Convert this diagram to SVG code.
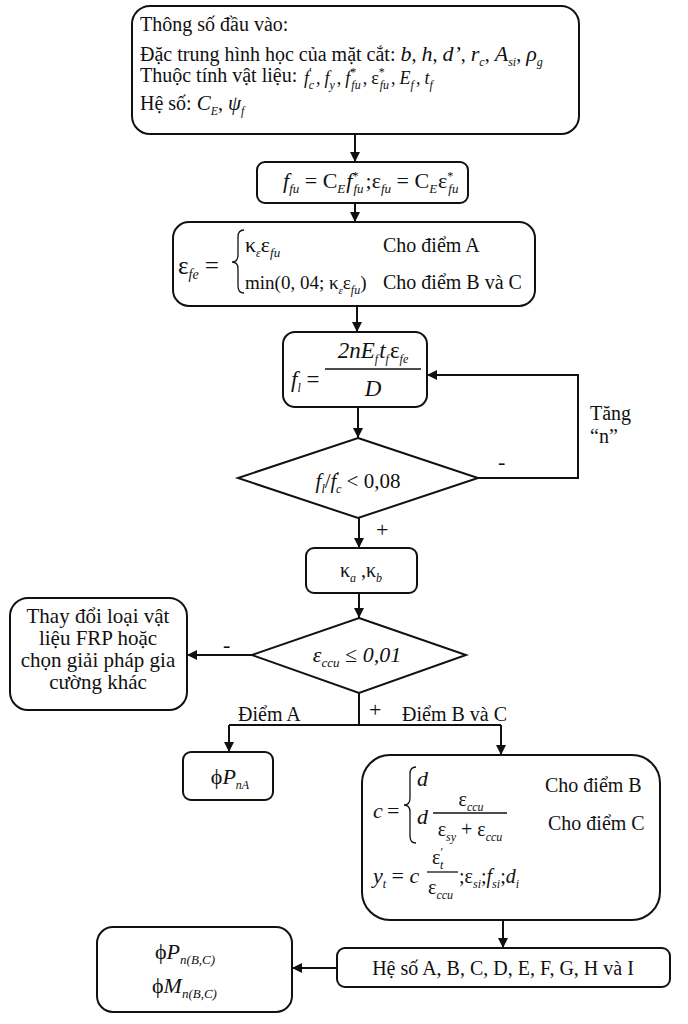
<svg xmlns="http://www.w3.org/2000/svg" width="688" height="1024" viewBox="0 0 688 1024">
<defs>
<style>
.box{fill:#fff;stroke:#111;stroke-width:2}
.t{font-family:"Liberation Serif","Times New Roman",serif;font-size:20px;fill:#111}
.m{font-family:"Liberation Serif","Times New Roman",serif;font-size:21px;fill:#111}
.i{font-style:italic}
.b{font-size:12px;baseline-shift:-5px;font-style:italic}
.p{font-size:12px;baseline-shift:8px}
.c{stroke:#111;stroke-width:2;fill:none}
.thin{stroke:#111;stroke-width:1.3;fill:none}
</style>
<marker id="arr" viewBox="0 0 10 10" refX="10" refY="5" markerWidth="11" markerHeight="10" markerUnits="userSpaceOnUse" orient="auto"><path d="M0,0 L10,5 L0,10 z" fill="#111"/></marker>
</defs>
<rect width="688" height="1024" fill="#fff"/>

<g id="connectors">
<path class="c" d="M355,134 V162" marker-end="url(#arr)"/>
<path class="c" d="M355,203 V222" marker-end="url(#arr)"/>
<path class="c" d="M357,306 V332" marker-end="url(#arr)"/>
<path class="c" d="M358,407 V438" marker-end="url(#arr)"/>
<path class="c" d="M478,478 H578 V375 H427" marker-end="url(#arr)"/>
<path class="c" d="M359,518 V548" marker-end="url(#arr)"/>
<path class="c" d="M359,593 V618" marker-end="url(#arr)"/>
<path class="c" d="M252,655 H187" marker-end="url(#arr)"/>
<path class="c" d="M359,693 V725 M229,725 H501"/>
<path class="c" d="M229,725 V752" marker-end="url(#arr)"/>
<path class="c" d="M501,725 V755" marker-end="url(#arr)"/>
<path class="c" d="M503,920 V948" marker-end="url(#arr)"/>
<path class="c" d="M337,968 H292" marker-end="url(#arr)"/>
<text class="t" x="590" y="420">Tăng</text>
<text class="t" x="590" y="443">“n”</text>
<text class="t" x="498" y="469" style="font-size:22px">-</text>
<text class="t" x="376" y="537" style="font-size:22px">+</text>
<text class="t" x="223" y="652" style="font-size:22px">-</text>
<text class="t" x="369" y="717" style="font-size:22px">+</text>
<text class="t" x="238" y="721">Điểm A</text>
<text class="t" x="402" y="721">Điểm B và C</text>
</g>

<g id="input">
<rect class="box" x="132" y="6" width="447" height="128" rx="18"/>
<text class="t" x="140" y="31">Thông số đầu vào:</text>
<text class="t" x="140" y="61">Đặc trung hình học của mặt cắt: <tspan class="i" font-size="22">b</tspan>, <tspan class="i" font-size="22">h</tspan>, <tspan class="i" font-size="22">d’</tspan>, <tspan class="i" font-size="22">r</tspan><tspan class="b">c</tspan>, <tspan class="i" font-size="22">A</tspan><tspan class="b">si</tspan>, <tspan class="i" font-size="22">ρ</tspan><tspan class="b">g</tspan></text>
<text class="t" x="140" y="82">Thuộc tính vật liệu:</text>
<text class="m" x="304" y="84" style="font-size:18px"><tspan class="i">f</tspan><tspan class="p">′</tspan><tspan class="b" dx="-3">c</tspan><tspan dx="2">,</tspan><tspan class="i" dx="4">f</tspan><tspan class="b">y</tspan><tspan dx="2">,</tspan><tspan class="i" dx="4">f</tspan><tspan class="p">*</tspan><tspan class="b" dx="-5">fu</tspan><tspan dx="2">,</tspan><tspan dx="4">ε</tspan><tspan class="p">*</tspan><tspan class="b" dx="-5">fu</tspan><tspan dx="2">,</tspan><tspan class="i" dx="4">E</tspan><tspan class="b">f</tspan><tspan dx="2">,</tspan><tspan class="i" dx="4">t</tspan><tspan class="b">f</tspan></text>
<text class="t" x="140" y="110">Hệ số: <tspan class="i" font-size="21">C</tspan><tspan class="b">E</tspan>, <tspan class="i" font-size="21">ψ</tspan><tspan class="b">f</tspan></text>
</g>

<g id="ffu">
<rect class="box" x="257" y="162" width="211" height="41" rx="8"/>
<text class="m" x="283" y="188" style="font-size:22px"><tspan class="i">f</tspan><tspan class="b" style="font-size:13px">fu</tspan> = C<tspan class="b" style="font-size:13px">E</tspan><tspan class="i" dx="1">f</tspan><tspan class="p">*</tspan><tspan class="b" dx="-5" style="font-size:13px">fu</tspan><tspan dx="2">;</tspan>ε<tspan class="b" style="font-size:13px">fu</tspan> = C<tspan class="b" style="font-size:13px">E</tspan><tspan dx="1">ε</tspan><tspan class="p">*</tspan><tspan class="b" dx="-5" style="font-size:13px">fu</tspan></text>
</g>

<g id="efe">
<rect class="box" x="173" y="222" width="362" height="84" rx="16"/>
<text class="m" x="178" y="274" style="font-size:25px">ε<tspan class="b" style="font-size:14px">fe</tspan> =</text>
<path class="thin" d="M244,230 Q238,230 238,237 L238,255 Q238,262 232,262 Q238,262 238,269 L238,286 Q238,293 244,293"/>
<text class="m" x="245" y="252" style="font-size:22px">κ<tspan class="b" style="font-size:12px">ε</tspan>ε<tspan class="b" style="font-size:13px">fu</tspan></text>
<text class="t" x="383" y="252">Cho điểm A</text>
<text class="m" x="245" y="289" style="font-size:19px">min(0, 04; κ<tspan class="b" style="font-size:11px">ε</tspan>ε<tspan class="b" style="font-size:12px">fu</tspan>)</text>
<text class="t" x="383" y="289">Cho điểm B và C</text>
</g>

<g id="fl">
<rect class="box" x="283" y="332" width="144" height="75" rx="12"/>
<text class="m" x="291" y="387" style="font-size:23px"><tspan class="i">f</tspan><tspan class="b">l</tspan> =</text>
<line class="thin" x1="325" y1="369" x2="421" y2="369"/>
<text class="m" x="373" y="358" text-anchor="middle" style="font-size:23px"><tspan class="i">2nE</tspan><tspan class="b">f</tspan><tspan class="i" dx="1">t</tspan><tspan class="b">f</tspan><tspan dx="1">ε</tspan><tspan class="b">fe</tspan></text>
<text class="m i" x="373" y="396" text-anchor="middle" style="font-size:23px">D</text>
</g>

<g id="check1">
<polygon class="box" points="358,438 478,478 358,518 238,478"/>
<text class="m" x="358" y="488" text-anchor="middle" style="font-size:21px"><tspan class="i">f</tspan><tspan class="b">l</tspan>/<tspan class="i">f</tspan><tspan class="p">′</tspan><tspan class="b" dx="-3">c</tspan> &lt; 0,08</text>
</g>

<g id="kappa">
<rect class="box" x="306" y="548" width="111" height="45" rx="8"/>
<text class="m" x="361" y="577" text-anchor="middle" style="font-size:20px">κ<tspan class="b">a</tspan> ,κ<tspan class="b">b</tspan></text>
</g>

<g id="check2">
<polygon class="box" points="359,618 466,655 359,693 252,655"/>
<text class="m i" x="357" y="662" text-anchor="middle" style="font-size:22px">ε<tspan class="b" style="font-size:13px">ccu</tspan> ≤ 0,01</text>
</g>

<g id="change">
<rect class="box" x="10" y="598" width="177" height="112" rx="18"/>
<text class="t" x="98" y="623" text-anchor="middle" style="font-size:21px">Thay đổi loại vật</text>
<text class="t" x="98" y="645" text-anchor="middle" style="font-size:21px">liệu FRP hoặc</text>
<text class="t" x="98" y="667" text-anchor="middle" style="font-size:21px">chọn giải pháp gia</text>
<text class="t" x="98" y="689" text-anchor="middle" style="font-size:21px">cường khác</text>
</g>

<g id="pna">
<rect class="box" x="183" y="752" width="90" height="48" rx="8"/>
<text class="m" x="230" y="784" text-anchor="middle" style="font-size:22px">ϕ<tspan class="i">P</tspan><tspan class="b">nA</tspan></text>
</g>

<g id="cbox">
<rect class="box" x="362" y="755" width="298" height="165" rx="28"/>
<text class="m i" x="373" y="818" style="font-size:22px">c</text>
<text class="m" x="387" y="818" style="font-size:22px">=</text>
<path class="thin" d="M416,767 Q410,767 410,774 L410,798 Q410,805 404,805 Q410,805 410,812 L410,836 Q410,843 416,843"/>
<text class="m i" x="417" y="786" style="font-size:22px">d</text>
<text class="m i" x="417" y="824" style="font-size:22px">d</text>
<line class="thin" x1="433" y1="813" x2="507" y2="813"/>
<text class="m" x="471" y="806" text-anchor="middle" style="font-size:20px">ε<tspan class="b">ccu</tspan></text>
<text class="m" x="470" y="836" text-anchor="middle" style="font-size:20px">ε<tspan class="b">sy</tspan> + ε<tspan class="b">ccu</tspan></text>
<text class="t" x="545" y="792">Cho điểm B</text>
<text class="t" x="548" y="830">Cho điểm C</text>
<text class="m" x="373" y="883" style="font-size:22px"><tspan class="i">y</tspan><tspan class="b">t</tspan> = <tspan class="i">c</tspan></text>
<line class="thin" x1="427" y1="872" x2="458" y2="872"/>
<text class="m" x="432" y="864" style="font-size:20px">ε<tspan class="p">′</tspan><tspan class="b" dx="-3">t</tspan></text>
<text class="m" x="428" y="894" style="font-size:20px">ε<tspan class="b">ccu</tspan></text>
<text class="m" x="459" y="883" style="font-size:20px">;ε<tspan class="b">si</tspan>;<tspan class="i">f</tspan><tspan class="b">si</tspan>;<tspan class="i">d</tspan><tspan class="b">i</tspan></text>
</g>

<g id="coef">
<rect class="box" x="337" y="948" width="333" height="39" rx="8"/>
<text class="t" x="503" y="975" text-anchor="middle">Hệ số A, B, C, D, E, F, G, H và I</text>
</g>

<g id="pm">
<rect class="box" x="97" y="927" width="195" height="85" rx="16"/>
<text class="m" x="155" y="959" style="font-size:22px">ϕ<tspan class="i">P</tspan><tspan class="b" style="font-size:13px">n(B,C)</tspan></text>
<text class="m" x="152" y="993" style="font-size:22px">ϕ<tspan class="i">M</tspan><tspan class="b" style="font-size:13px">n(B,C)</tspan></text>
</g>
</svg>
